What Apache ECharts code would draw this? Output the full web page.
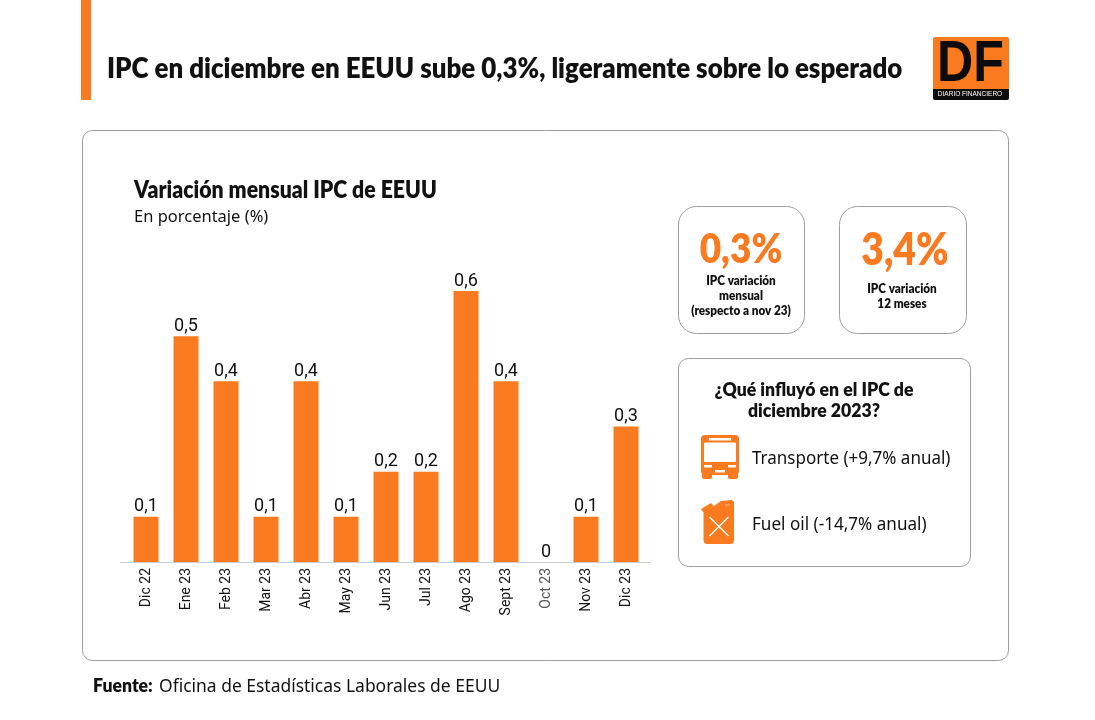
<!DOCTYPE html>
<html>
<head>
<meta charset="utf-8">
<title>IPC EEUU</title>
<style>
html, body { margin: 0; padding: 0; background: #fff; }
#main { width: 1095px; height: 720px; }
</style>
<script src="https://cdn.jsdelivr.net/npm/echarts@6/dist/echarts.min.js"></script>
</head>
<body>
<div id="main"></div>
<script>
var categories = ['Dic 22', 'Ene 23', 'Feb 23', 'Mar 23', 'Abr 23', 'May 23', 'Jun 23', 'Jul 23', 'Ago 23', 'Sept 23', 'Oct 23', 'Nov 23', 'Dic 23'];
var values = [0.1, 0.5, 0.4, 0.1, 0.4, 0.1, 0.2, 0.2, 0.6, 0.4, 0, 0.1, 0.3];

var titleText = 'IPC en diciembre en EEUU sube 0,3%, ligeramente sobre lo esperado';
var chartTitle = 'Variación mensual IPC de EEUU';
var chartSubtitle = 'En porcentaje (%)';
var kpiMonth = ['0,3%', 'IPC variación\nmensual\n(respecto a nov 23)'];
var kpiYear = ['3,4%', 'IPC variación\n12 meses'];
var boxTitle = '¿Qué influyó en el IPC de\ndiciembre 2023?';
var boxItems = ['Transporte (+9,7% anual)', 'Fuel oil (-14,7% anual)'];
var sourceBold = 'Fuente:';
var sourceText = 'Oficina de Estadísticas Laborales de EEUU';

var orange = '#f97a1f';
var dark = '#111';
var bold = 'Lato, "Noto Sans", sans-serif';
var body = '"Noto Sans", Lato, sans-serif';
var helvetica = '"Liberation Sans", sans-serif';

// scaleX narrows the installed fonts towards the condensed look of the original
function txt(x, y, text, size, weight, color, align, family, lineHeight, scaleX) {
	return {
		type : 'text',
		x : x,
		y : y,
		scaleX : scaleX || 1,
		style : {
			text : text,
			fontSize : size,
			fontWeight : weight,
			fontFamily : family || bold,
			fill : color || dark,
			align : align || 'left',
			verticalAlign : 'middle',
			lineHeight : lineHeight || size * 1.2
		}
	};
}

function card(x, y, w, h, r) {
	return {
		type : 'rect',
		shape : { x : x, y : y, width : w, height : h, r : r },
		style : { fill : '#fff', stroke : '#9e9e9e', lineWidth : 1 }
	};
}

function busIcon() {
	return {
		type : 'group',
		x : 701,
		y : 435,
		children : [
			{ type : 'rect', shape : { x : 0, y : 0, width : 38, height : 40, r : 4 }, style : { fill : orange } },
			{ type : 'rect', shape : { x : 1, y : 37, width : 10, height : 7, r : 2 }, style : { fill : orange } },
			{ type : 'rect', shape : { x : 27, y : 37, width : 10, height : 7, r : 2 }, style : { fill : orange } },
			{ type : 'rect', shape : { x : 8, y : 3, width : 22, height : 2.5 }, style : { fill : '#fff' } },
			{ type : 'rect', shape : { x : 3, y : 7.5, width : 32, height : 19.5, r : 1 }, style : { fill : '#fff' } },
			{ type : 'rect', shape : { x : 3, y : 30, width : 8, height : 2.5 }, style : { fill : '#fff' } },
			{ type : 'rect', shape : { x : 27, y : 30, width : 8, height : 2.5 }, style : { fill : '#fff' } },
			{ type : 'rect', shape : { x : 14, y : 35, width : 10, height : 2.5 }, style : { fill : '#fff' } }
		]
	};
}

function canIcon() {
	return {
		type : 'group',
		x : 701,
		y : 500,
		children : [
			{ type : 'rect', shape : { x : 2.5, y : 9, width : 30.5, height : 35, r : 4 }, style : { fill : orange } },
			{ type : 'polygon', shape : { points : [ [ 3, 11 ], [ 13, 6 ], [ 20, 1 ], [ 31, 0 ], [ 33, 2 ], [ 33, 12 ] ] }, style : { fill : orange } },
			{ type : 'polygon', shape : { points : [ [ 0, 9 ], [ 10, 3 ], [ 13, 6 ], [ 2, 12 ] ] }, style : { fill : orange } },
			{ type : 'line', shape : { x1 : 24, y1 : 5, x2 : 29, y2 : 5 }, style : { stroke : '#fbb78a', lineWidth : 1 } },
			{ type : 'line', shape : { x1 : 8.5, y1 : 17, x2 : 27.5, y2 : 36 }, style : { stroke : '#fff', lineWidth : 1.5 } },
			{ type : 'line', shape : { x1 : 27.5, y1 : 17, x2 : 8.5, y2 : 36 }, style : { stroke : '#fff', lineWidth : 1.5 } }
		]
	};
}

var graphics = [
	{ type : 'rect', shape : { x : 81, y : 0, width : 10, height : 100 }, style : { fill : orange } },
	txt(107, 69, titleText, 28, 800, dark, 'left', bold, 34, 0.925),
	// logo
	{ type : 'rect', shape : { x : 933, y : 37, width : 76, height : 63, r : 2 }, style : { fill : orange } },
	{ type : 'rect', shape : { x : 933, y : 89, width : 76, height : 11, r : [ 0, 0, 2, 2 ] }, style : { fill : '#0c0c0c' } },
	txt(970.5, 65, 'DF', 57, 700, '#0c0c0c', 'center', helvetica, 57, 0.88),
	txt(970, 94.5, 'DIARIO FINANCIERO', 6.5, 400, '#fff', 'center', helvetica),
	// contenedor
	card(82.5, 130.5, 926, 530, 10),
	txt(134, 190, chartTitle, 24, 800, dark, 'left', bold, 29, 0.885),
	txt(134, 217, chartSubtitle, 17, 400, dark, 'left', body, 20, 0.97),
	{ type : 'line', shape : { x1 : 120, y1 : 562.5, x2 : 651, y2 : 562.5 }, style : { stroke : '#c9ced6', lineWidth : 1 } },
	// kpis
	card(678.5, 206.5, 126, 127, 18),
	txt(741, 249, kpiMonth[0], 42, 800, orange, 'center', bold, 50, 0.88),
	txt(741, 296, kpiMonth[1], 13, 800, dark, 'center', bold, 15, 0.9),
	card(839.5, 206.5, 127, 127, 18),
	txt(905, 250, kpiYear[0], 46, 800, orange, 'center', bold, 54, 0.85),
	txt(902, 296.5, kpiYear[1], 13, 800, dark, 'center', bold, 15, 0.9),
	// influencias
	card(678.5, 358.5, 292, 208, 10),
	txt(814, 401, boxTitle, 18, 800, dark, 'center', bold, 21, 0.98),
	busIcon(),
	txt(752, 459, boxItems[0], 18, 400, dark, 'left', body, 22, 0.945),
	canIcon(),
	txt(752, 525, boxItems[1], 18, 400, dark, 'left', body, 22, 0.95),
	// fuente
	txt(93, 686, sourceBold, 18, 800, dark, 'left', bold, 22, 0.98),
	txt(159, 687, sourceText, 18, 400, dark, 'left', body, 22, 0.97)
];

var chart = echarts.init(document.getElementById('main'));

chart.setOption({
	animation : false,
	backgroundColor : '#fff',
	graphic : graphics,
	grid : { left : 126, top : 291, width : 520, height : 271, containLabel : false },
	xAxis : {
		type : 'category',
		data : categories,
		axisLine : { show : false },
		axisTick : { show : false },
		axisLabel : {
			rotate : 90,
			interval : 0,
			margin : 6,
			fontSize : 14,
			fontFamily : 'Roboto, sans-serif',
			color : function(value) {
				return value === 'Oct 23' ? '#555' : dark;
			}
		}
	},
	yAxis : { type : 'value', min : 0, max : 0.6, interval : 0.1, show : false },
	series : [ {
		type : 'bar',
		data : values,
		barWidth : 25,
		itemStyle : { color : orange },
		label : {
			show : true,
			position : 'top',
			distance : 1,
			fontSize : 18,
			fontFamily : 'Roboto, sans-serif',
			color : dark,
			formatter : function(p) {
				return String(p.value).replace('.', ',');
			}
		}
	} ]
});
</script>
</body>
</html>
